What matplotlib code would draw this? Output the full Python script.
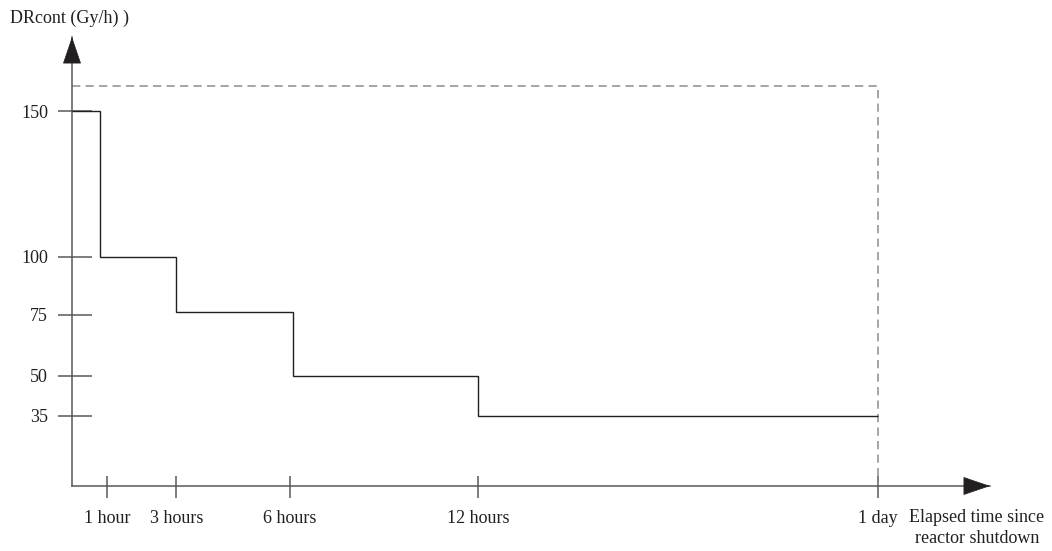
import numpy as np
import matplotlib
matplotlib.use("Agg")
import matplotlib.pyplot as plt
from matplotlib.scale import FuncScale

# ---------------- data ----------------
step_times_h = [0, 0.8, 3, 6.1, 12, 24]          # hours, edges of each dose-rate step
step_levels = [150, 100, 76, 50, 35]              # DRcont (Gy/h)
x_tick_hours = [1, 3, 6, 12, 24]
x_tick_labels = ["1 hour", "3 hours", "6 hours", "12 hours", "1 day"]
y_tick_values = [35, 50, 75, 100, 150]
y_tick_labels = ["35", "50", "75", "100", "150"]
dash_top_value = 158.5                            # top of dashed envelope
dash_end_hours = 24

# ---------------- schematic (non-linear) axis layout ----------------
X_ANCHOR_VALS = [0, 1, 3, 6, 12, 24]
X_ANCHOR_POS = [0, 35, 104.3, 218, 406.3, 805.7]
Y_ANCHOR_VALS = [35, 50, 75, 100, 150]
Y_ANCHOR_POS = [70, 110.3, 171.3, 229.3, 375]


def piecewise(xs, ys):
    xs = np.asarray(xs, float)
    ys = np.asarray(ys, float)
    s0 = (ys[1] - ys[0]) / (xs[1] - xs[0])
    s1 = (ys[-1] - ys[-2]) / (xs[-1] - xs[-2])

    def f(v):
        v = np.asarray(v, float)
        out = np.interp(v, xs, ys)
        lo = v < xs[0]
        hi = v > xs[-1]
        out = np.where(lo, ys[0] + (v - xs[0]) * s0, out)
        out = np.where(hi, ys[-1] + (v - xs[-1]) * s1, out)
        return out
    return f


fx, ix = piecewise(X_ANCHOR_VALS, X_ANCHOR_POS), piecewise(X_ANCHOR_POS, X_ANCHOR_VALS)
fy, iy = piecewise(Y_ANCHOR_VALS, Y_ANCHOR_POS), piecewise(Y_ANCHOR_POS, Y_ANCHOR_VALS)

plt.rcParams["font.family"] = ["Liberation Serif", "DejaVu Serif"]
plt.rcParams["font.size"] = 13

W, H, DPI = 1052, 551, 100
fig = plt.figure(figsize=(W / DPI, H / DPI), dpi=DPI)
ax_l, ax_r, ax_t, ax_b = 72, 990, 37, 486
ax = fig.add_axes([ax_l / W, (H - ax_b) / H, (ax_r - ax_l) / W, (ax_b - ax_t) / H])

ax.set_xscale(FuncScale(ax, (fx, ix)))
ax.set_yscale(FuncScale(ax, (fy, iy)))
ax.set_xlim(float(ix(0)), float(ix(ax_r - ax_l)))
ax.set_ylim(float(iy(0)), float(iy(ax_b - ax_t)))

axis_col = "#555555"
ink = "#231f20"
px = 72 / DPI  # points per pixel

for s in ["top", "right"]:
    ax.spines[s].set_visible(False)
for s in ["left", "bottom"]:
    ax.spines[s].set_color(axis_col)
    ax.spines[s].set_linewidth(1.5 * px)

# ticks: outward (major) + inward (minor) at same spots for asymmetric marks
ax.xaxis.remove_overlapping_locs = False
ax.yaxis.remove_overlapping_locs = False
ax.set_xticks(x_tick_hours, x_tick_labels)
ax.set_xticks(x_tick_hours, minor=True)
ax.set_yticks(y_tick_values, y_tick_labels)
ax.set_yticks(y_tick_values, minor=True)
ax.tick_params(axis="x", which="major", direction="out", length=12 * px, width=1.5 * px,
               color=axis_col, pad=12 * px, labelcolor=ink)
ax.tick_params(axis="x", which="minor", direction="in", length=10 * px, width=1.5 * px,
               color=axis_col)
ax.tick_params(axis="y", which="major", direction="out", length=14 * px, width=1.5 * px,
               color=axis_col, pad=10 * px, labelcolor=ink)
ax.tick_params(axis="y", which="minor", direction="in", length=20 * px, width=1.5 * px,
               color=axis_col)

# step curve
ax.stairs(step_levels, edges=step_times_h, baseline=None, color=ink, linewidth=1.4 * px,
          clip_on=False, zorder=3)

# dashed envelope
ax.plot([step_times_h[0], dash_end_hours, dash_end_hours],
        [dash_top_value, dash_top_value, ax.get_ylim()[0]],
        color="#8a8a8a", linewidth=1.5 * px, linestyle=(0, (5.5, 3.5)), clip_on=False, zorder=2)

# arrow heads
head = "-|>,head_length=%.2f,head_width=%.2f" % (25 * px, 8.5 * px)
for xy, off in [((1, 0), (-26 * px, 0)), ((0, 1), (0, -24 * px))]:
    ax.annotate("", xy=xy, xycoords="axes fraction", xytext=off, textcoords="offset points",
                arrowprops=dict(arrowstyle=head, mutation_scale=1, color=ink, lw=0.5,
                                shrinkA=0, shrinkB=0),
                annotation_clip=False)

fig.text(10 / W, 1 - 23 / H, "DRcont (Gy/h) )", ha="left", va="baseline", color=ink)
fig.text(977 / W, 1 - 509 / H, "Elapsed time since\nreactor shutdown", ha="center", va="top",
         color=ink, linespacing=1.3)

fig.savefig("out.png", dpi=DPI)
